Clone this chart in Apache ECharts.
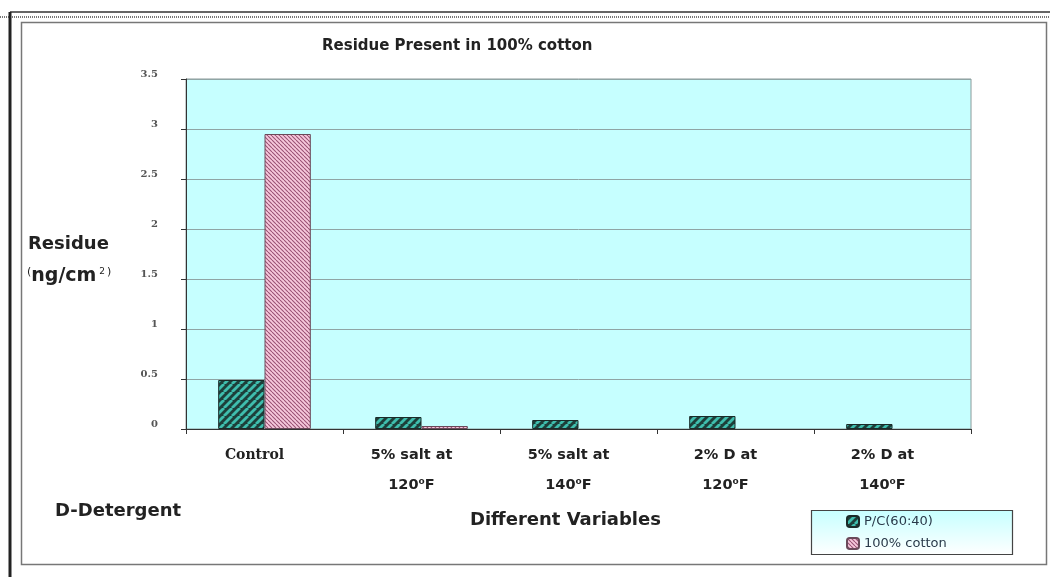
<!DOCTYPE html>
<html><head><meta charset="utf-8">
<script src="https://cdn.jsdelivr.net/npm/echarts@6/dist/echarts.min.js"></script>
<style>html,body{margin:0;padding:0;background:#fff}#c{width:1050px;height:577px}</style>
</head><body><div id="c"></div>
<script>
const categories = ['Control', '5% salt at\n120⁰F', '5% salt at\n140⁰F', '2% D at\n120⁰F', '2% D at\n140⁰F'];
const pcValues = [0.49, 0.12, 0.09, 0.13, 0.05];
const cottonValues = [2.95, 0.03, 0, 0, 0];
const seriesNames = ['P/C(60:40)', '100% cotton'];
const yTicks = { min: 0, max: 3.5, interval: 0.5 };

function stripe(bg, fg, p, w, dir) {
  const c = document.createElement('canvas');
  c.width = p; c.height = p;
  const g = c.getContext('2d');
  g.fillStyle = bg; g.fillRect(0, 0, p, p);
  g.strokeStyle = fg; g.lineWidth = w;
  for (let k = -1; k <= 1; k++) {
    g.beginPath();
    if (dir === '/') { g.moveTo(k * p, p); g.lineTo(k * p + p, 0); }
    else { g.moveTo(k * p, 0); g.lineTo(k * p + p, p); }
    g.stroke();
  }
  return c;
}
const pcPat = { image: stripe('#1d3f3a', '#3fbdad', 8, 2.8, '/'), repeat: 'repeat' };
const cotPat = { image: stripe('#f7c9dc', '#9a5274', 4, 1.1, '\\'), repeat: 'repeat' };
const noZero = arr => arr.map(v => v === 0 ? { value: v, itemStyle: { borderWidth: 0 } } : v);

const chart = echarts.init(document.getElementById('c'));
const sans = 'DejaVu Sans';
chart.setOption({
  animation: false,
  title: { text: 'Residue Present in 100% cotton', left: 317, top: 34,
    textStyle: { fontFamily: sans, fontWeight: 'bold', fontSize: 15, color: '#222' } },
  grid: { left: 186, right: 79, top: 79, bottom: 148, show: true,
    backgroundColor: '#c6ffff', borderColor: '#8a9a9a', borderWidth: 1 },
  legend: { show: true, orient: 'vertical', left: 841, top: 513, itemWidth: 12, itemHeight: 11, itemGap: 9, padding: [2, 5],
    textStyle: { fontFamily: sans, fontSize: 13, color: '#2a3a4a' },
    data: seriesNames },
  xAxis: { type: 'category', data: categories,
    axisLine: { lineStyle: { color: '#333', width: 1 } },
    axisTick: { show: true, length: 5, lineStyle: { color: '#333' } },
    axisLabel: { margin: 11, interval: 0, padding: [0, 20, 0, 0],
      formatter: v => v === 'Control' ? '{serif|Control}' : v.split('\n').map(s => '{s|' + s + '}').join('\n'),
      rich: {
        serif: { fontFamily: 'DejaVu Serif', fontWeight: 'bold', fontSize: 14, color: '#222', lineHeight: 30 },
        s: { fontFamily: sans, fontWeight: 'bold', fontSize: 14.5, color: '#222', lineHeight: 30 }
      } } },
  yAxis: { type: 'value', min: yTicks.min, max: yTicks.max, interval: yTicks.interval,
    axisLine: { show: true, lineStyle: { color: '#333' } },
    axisTick: { show: true, length: 5, lineStyle: { color: '#333' } },
    splitLine: { lineStyle: { color: '#8fa5a5', width: 1 } },
    axisLabel: { margin: 28, fontFamily: 'DejaVu Serif', fontSize: 10, fontWeight: 'bold', color: '#555', verticalAlign: 'bottom' } },
  series: [
    { name: seriesNames[0], type: 'bar', data: noZero(pcValues), barGap: '0%', barCategoryGap: '41%',
      itemStyle: { color: pcPat, borderColor: '#1a2a28', borderWidth: 1 } },
    { name: seriesNames[1], type: 'bar', data: noZero(cottonValues),
      itemStyle: { color: cotPat, borderColor: '#6a4a5a', borderWidth: 1 } }
  ],
  graphic: [
    { type: 'line', shape: { x1: 0, y1: 17, x2: 1050, y2: 17 }, style: { stroke: '#777', lineWidth: 2, lineDash: [1, 1] } },
    { type: 'line', shape: { x1: 10, y1: 12, x2: 1050, y2: 12 }, style: { stroke: '#333', lineWidth: 1.5 } },
    { type: 'line', shape: { x1: 10, y1: 12, x2: 10, y2: 577 }, style: { stroke: '#222', lineWidth: 3 } },
    { type: 'rect', shape: { x: 21.5, y: 22.5, width: 1025, height: 542 }, style: { fill: 'none', stroke: '#777', lineWidth: 1.5 } },
    { type: 'rect', z: -1, shape: { x: 811.5, y: 510.5, width: 201, height: 44 },
      style: { stroke: '#444', lineWidth: 1.2,
        fill: new echarts.graphic.LinearGradient(0, 0, 0, 1, [{ offset: 0, color: '#c6ffff' }, { offset: 1, color: '#ffffff' }]) } },
    { type: 'text', left: 28, top: 235, style: { text: 'Residue', fontFamily: sans, fontWeight: 'bold', fontSize: 18, fill: '#222' } },
    { type: 'text', left: 27, top: 267, style: { text: '{a|(}{b|ng/cm}{c| 2}{a|)}', rich: {
        a: { fontFamily: sans, fontSize: 11, fill: '#222', verticalAlign: 'top' },
        b: { fontFamily: sans, fontWeight: 'bold', fontSize: 19, fill: '#222' },
        c: { fontFamily: sans, fontSize: 9, fill: '#222', verticalAlign: 'top', padding: [0, 2, 10, 0] } } } },
    { type: 'text', left: 55, top: 502, style: { text: 'D-Detergent', fontFamily: sans, fontWeight: 'bold', fontSize: 18, fill: '#222' } },
    { type: 'text', left: 470, top: 511, style: { text: 'Different Variables', fontFamily: sans, fontWeight: 'bold', fontSize: 18, fill: '#222' } }
  ]
});
</script></body></html>
